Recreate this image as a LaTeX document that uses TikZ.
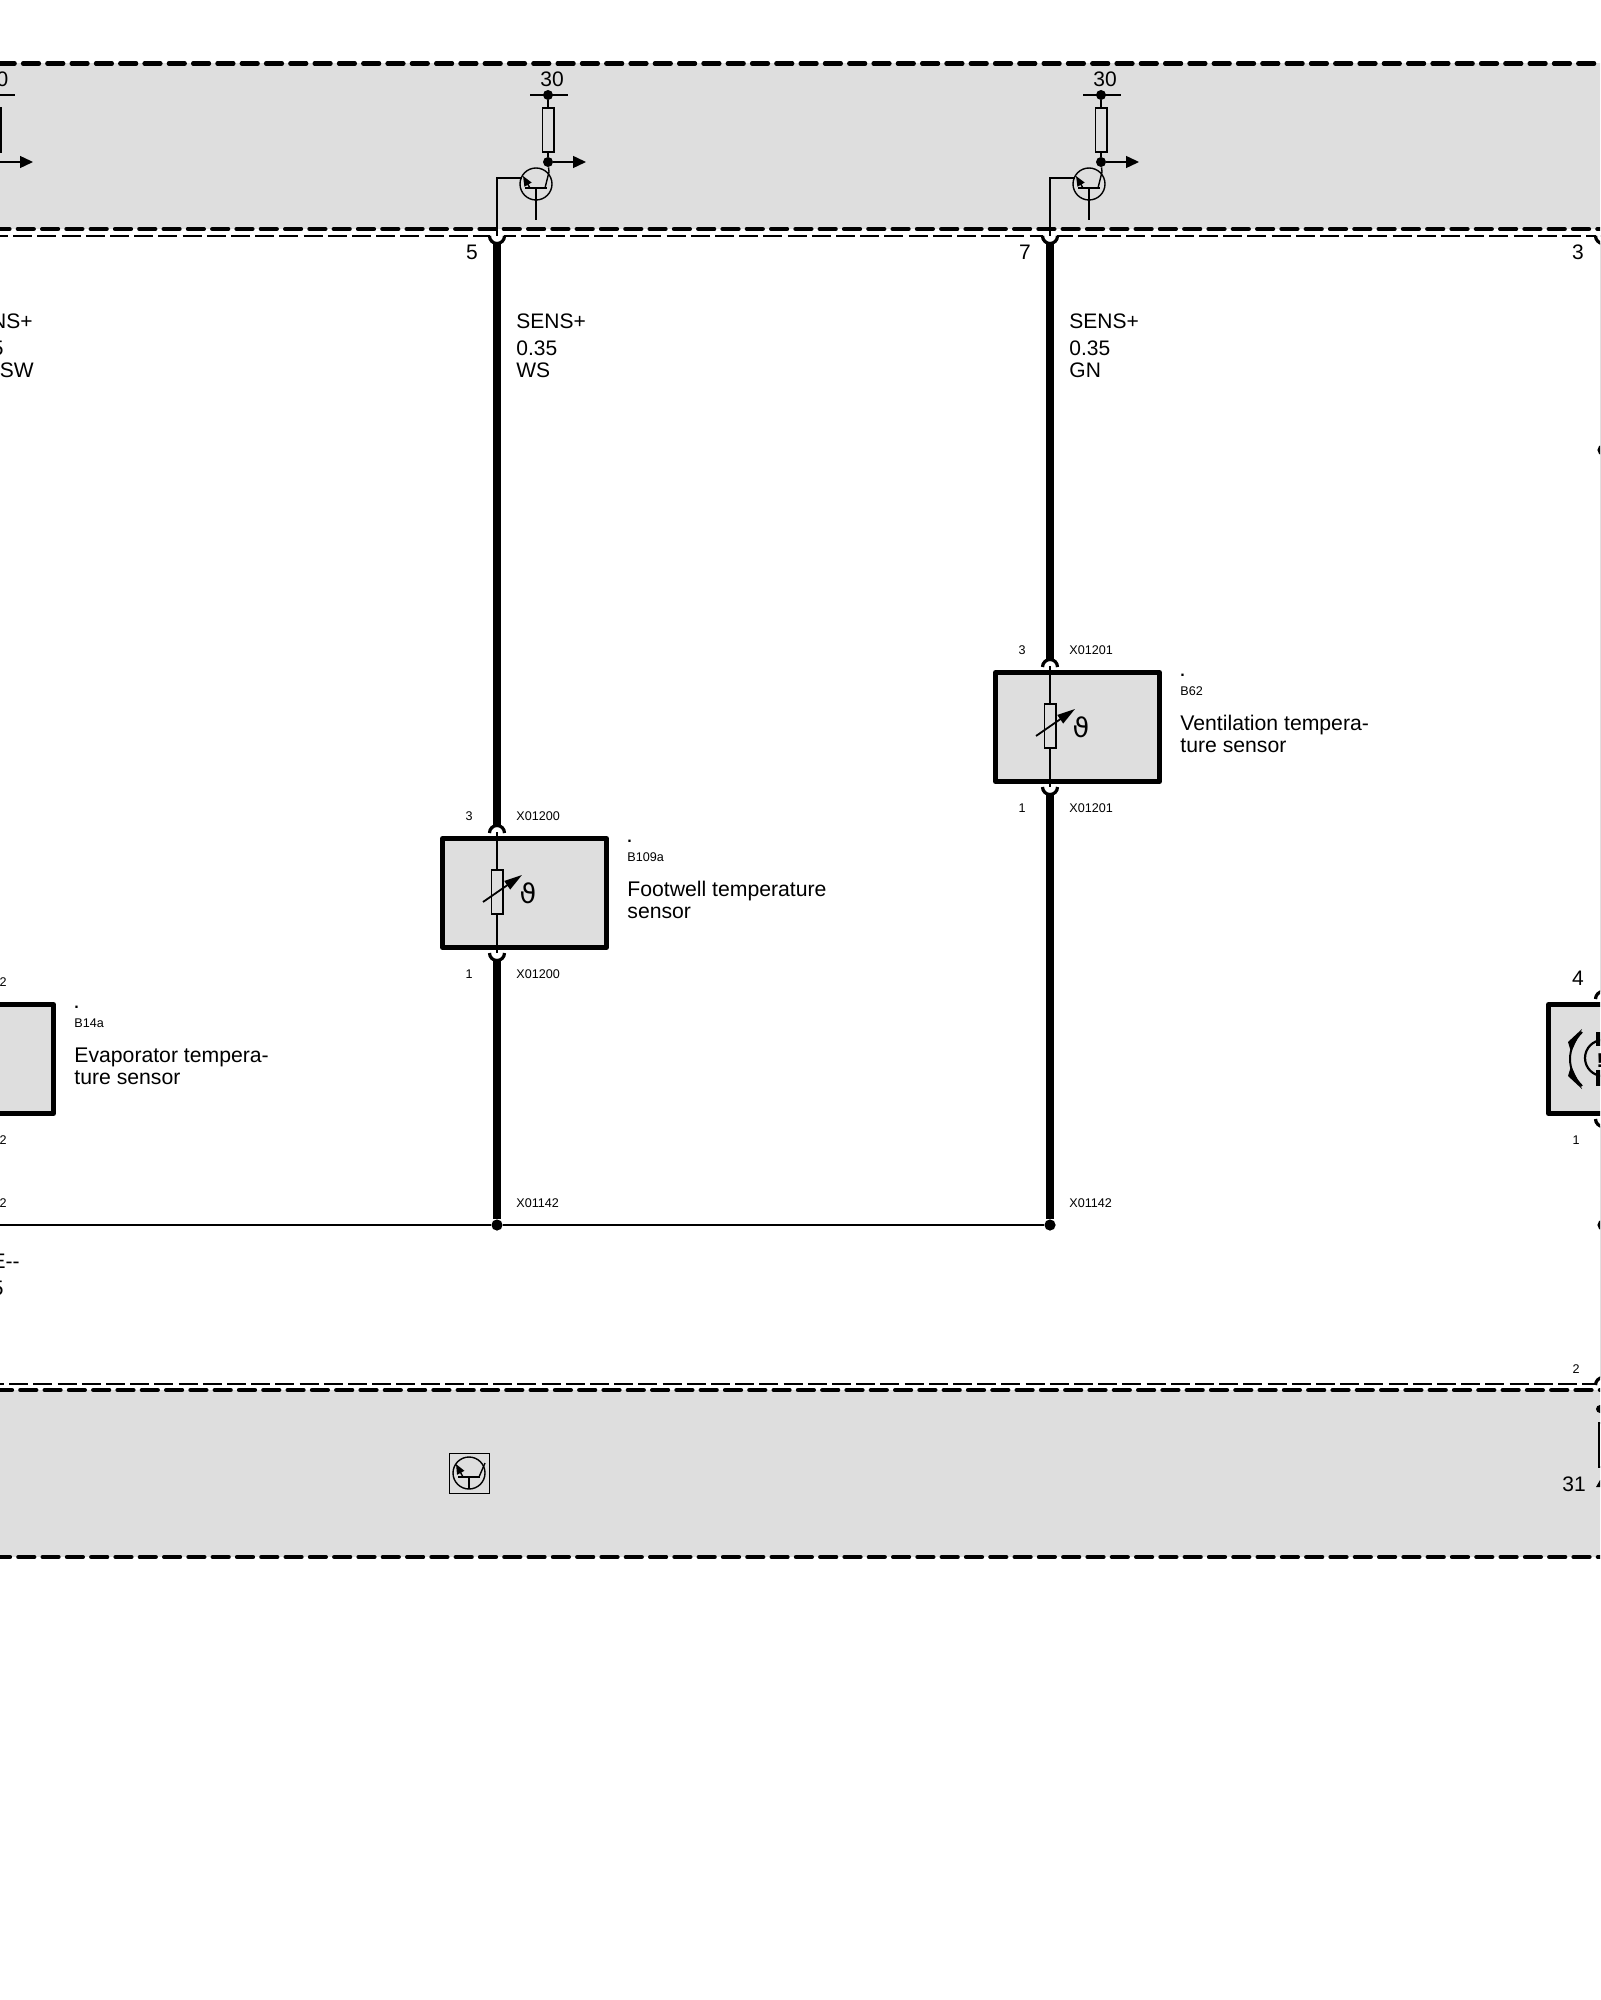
\documentclass[tikz,border=0pt]{standalone}
\usepackage{fontspec}
\setmainfont{Liberation Sans}
\newfontfamily\symfont{DejaVu Sans}
\usetikzlibrary{arrows.meta}
\definecolor{bandgrey}{RGB}{222,222,222}
\tikzset{
  band/.style={fill=bandgrey,draw=none},
  thickdash/.style={line width=2.1pt,line cap=round,dash pattern=on 8pt off 4.15pt},
  thindash/.style={line width=.75pt,dash pattern=on 9.5pt off 2.6pt},
  wirethick/.style={line width=3.8pt},
  wirethin/.style={line width=.75pt},
  hook/.style={line width=1.6pt},
  sym/.style={line width=.7pt},
  bigtxt/.style={font=\fontsize{10.5}{12}\selectfont,inner sep=0pt,anchor=base west},
  bigmid/.style={font=\fontsize{10.5}{12}\selectfont,inner sep=0pt,anchor=base},
  bigend/.style={font=\fontsize{10.5}{12}\selectfont,inner sep=0pt,anchor=base east},
  smalltxt/.style={font=\fontsize{6.3}{7}\selectfont,inner sep=0pt,anchor=base west},
  smallmid/.style={font=\fontsize{6.3}{7}\selectfont,inner sep=0pt,anchor=base},
  smallend/.style={font=\fontsize{6.3}{7}\selectfont,inner sep=0pt,anchor=base east},
  dotmark/.style={font=\bfseries\fontsize{8}{8}\selectfont,inner sep=0pt,anchor=base west},
  sensorbox/.style={draw,fill=bandgrey,line width=2.5pt,line join=round,minimum width=82pt,minimum height=54.5pt,inner sep=0pt},
  junction/.style={circle,fill=black,inner sep=0pt,minimum size=5pt},
  bigjunction/.style={circle,fill=black,inner sep=0pt,minimum size=5.6pt},
  tip/.style={-{Triangle[length=6.5pt,width=6pt]}},
  smalltip/.style={-{Triangle[length=5pt,width=4pt]}},
}
% #1 = prefix, #2 = wire x
\newcommand{\driverstage}[2]{%
  \begin{scope}[xshift=#2*0.5pt]
    \node[junction] (#1sup) at (51,95) {};
    \draw[sym] (33,95) -- (71,95);
    \node[draw,sym,minimum width=5.8pt,minimum height=22pt,inner sep=0pt] (#1res) at (51,130) {};
    \node[junction] (#1out) at (51,162) {};
    \coordinate (#1arrow) at (89,162);
    \draw[sym] (#1sup) -- (#1res);
    \draw[sym] (#1res) -- (#1out);
    \draw[sym,tip] (#1out) -- (#1arrow);
    \node[draw,circle,sym,minimum size=16pt,inner sep=0pt] (#1tr) at (39,184) {};
    \draw[sym] (28,188) -- (50,188);
    \draw[sym] (39,188) -- (39,220);
    \draw[sym] (48,188) -- (52,172) -- (#1out);
    \draw[sym,smalltip] (33,188) -- (26,176);
    \draw[sym] (25,178) -- (0,178) -- (0,236);
  \end{scope}}
% #1 = name, #2 = wire x, #3 = vertical shift
\newcommand{\sensorunit}[3]{%
  \begin{scope}[xshift=#2*0.5pt,yshift=-#3*0.5pt]
    \node[sensorbox] (#1) at (27.5,893) {};
    \coordinate (#1wt) at (0,825);
    \coordinate (#1wb) at (0,960);
    \fill[white] (-7,826) rectangle (7,835);
    \fill[white] (-7,951) rectangle (7,960);
    \draw[hook] (-7.5,833) arc[start angle=180,end angle=360,radius=7.5];
    \draw[hook] (-7.5,953) arc[start angle=180,end angle=0,radius=7.5];
    \node[draw,fill=bandgrey,sym,minimum width=5.8pt,minimum height=22pt,inner sep=0pt] (#1r) at (0,892) {};
    \draw[wirethin] (0,832) -- (#1r);
    \draw[wirethin] (#1r) -- (0,953);
    \draw[sym,line width=.9pt,-{Triangle[length=9pt,width=5pt]}] (-14,902) -- (25,875);
    \node[inner sep=0pt] (#1t) at (31,893) {\symfont\fontsize{13.5}{13.5}\selectfont ϑ};
  \end{scope}}
\begin{document}
\begin{tikzpicture}[x=0.5pt,y=-0.5pt]
\useasboundingbox (0,0) rectangle (1600,2000);
\clip (0,0) rectangle (1600,2000);
% bands
\fill[band] (-10,63.5) rectangle (1610,229);
\fill[band] (-10,1390) rectangle (1610,1557);
\draw[thickdash] (-25.6,63.5) -- (1620,63.5);
\draw[thickdash] (-6.5,229) -- (1620,229);
\draw[thindash] (-11,236) -- (1620,236);
\draw[thindash] (-15,1384) -- (1596,1384);
\draw[thickdash] (-4,1390) -- (1620,1390);
\draw[thickdash] (-6,1557) -- (1620,1557);
% driver stages
\driverstage{a}{-56}
\driverstage{b}{497}
\driverstage{c}{1050}
% connector hooks at the band
\foreach \x in {497,1050,1603}{
  \fill[white] ({\x-7},233.5) rectangle ({\x+7},243);
  \draw[hook] ({\x-7.5},236) arc[start angle=180,end angle=0,radius=7.5];
  \draw[wirethin] (\x,225) -- (\x,236);
}
% sensors
\sensorunit{ev}{-56}{166}
\sensorunit{fw}{497}{0}
\sensorunit{vt}{1050}{-166}
% right-hand unit
\node[sensorbox] (rb) at (1630.5,1059) {};
\draw[hook] (1595.5,999) arc[start angle=180,end angle=360,radius=7.5];
\draw[hook] (1595.5,1119) arc[start angle=180,end angle=0,radius=7.5];
\draw[hook] (1595.5,1385) arc[start angle=180,end angle=360,radius=7.5];
\draw[line width=1pt] (1582,1032) .. controls (1566,1048) and (1566,1070) .. (1582,1086);
\fill (1582,1029) -- (1571,1052) -- (1568,1042) -- cycle;
\fill (1582,1089) -- (1571,1066) -- (1568,1076) -- cycle;
\draw[line width=1.1pt] (1603,1058) circle[radius=18];
\fill (1596,1032) rectangle (1610,1046);
\fill (1596,1070) rectangle (1610,1086);
\node[inner sep=0pt,anchor=base,font=\bfseries\fontsize{10}{10}\selectfont] (rbx) at (1600,1067) {!};
% wires and junctions
\coordinate (wstart) at (-10,1225);
\coordinate (fwtop) at (497,243);
\coordinate (vttop) at (1050,243);
\coordinate (rtop) at (1603.4,243);
\coordinate (rt1) at (1603.4,992);
\coordinate (rt2) at (1603.4,1126);
\coordinate (rt3) at (1603.4,1378);
\node[bigjunction] (j0) at (497,1225) {};
\node[bigjunction] (j1) at (1050,1225) {};
\node[bigjunction] (j2) at (1603,1225) {};
\node[bigjunction] (j3) at (1603,450) {};
\node[junction,minimum size=4pt] (j4) at (1600,1409) {};
\fill (1596,1487) -- (1600,1480) -- (1600,1487) -- cycle;
\draw[wirethin] (wstart) -- (j0);
\draw[wirethin] (j0) -- (j1);
\draw[wirethick] (fwtop) -- (fwwt);
\draw[wirethick] (fwwb) -- (j0);
\draw[wirethick] (vttop) -- (vtwt);
\draw[wirethick] (vtwb) -- (j1);
\draw[wirethick] (rtop) -- (rt1);
\draw[wirethick] (rt2) -- (rt3);
% bottom band symbols
\node[draw,line width=.8pt,minimum size=20pt,inner sep=0pt] (trbox) at (469.5,1473.5) {};
\node[draw,circle,sym,minimum size=16pt,inner sep=0pt] (trc) at (469,1473) {};
\draw[sym] (458,1477) -- (480,1477);
\draw[sym] (469,1477) -- (469,1489);
\draw[sym] (479,1477) -- (485,1463);
\draw[sym,smalltip] (463,1477) -- (456,1464);
\node[draw,line width=.8pt,minimum width=40pt,minimum height=22pt,inner sep=0pt] (rbox) at (1639,1445) {};
% texts
\node[bigend] (t0) at (8.7,87) {0};
\node[bigmid] (t30a) at (552,87) {30};
\node[bigmid] (t30b) at (1105,87) {30};
\node[bigmid] (p5) at (472,260) {5};
\node[bigmid] (p7) at (1025,260) {7};
\node[bigmid] (p3) at (1578,260) {3};
\node[bigend] (l1) at (33,329) {NS+};
\node[bigend] (l2) at (4,356) {5};
\node[bigend] (l3) at (34,378) {SW};
\node[bigtxt] (l4) at (516,329) {SENS+};
\node[bigtxt] (l5) at (516,356) {0.35};
\node[bigtxt] (l6) at (516,378) {WS};
\node[bigtxt] (l7) at (1069,329) {SENS+};
\node[bigtxt] (l8) at (1069,356) {0.35};
\node[bigtxt] (l9) at (1069,378) {GN};
\node[bigend] (l10) at (20,1268) {E-{}-};
\node[bigend] (l11) at (4,1295) {5};
\node[bigmid] (p4) at (1578,985) {4};
\node[bigmid] (p31) at (1574,1491) {31};
% small pin labels
\node[smallend] (s1) at (7,986) {2};
\node[smallend] (s2) at (7,1144) {2};
\node[smallend] (s3) at (7,1207) {2};
\node[smallmid] (s4) at (469,820) {3};
\node[smalltxt] (s5) at (516,820) {X01200};
\node[smallmid] (s6) at (469,978) {1};
\node[smalltxt] (s7) at (516,978) {X01200};
\node[smallmid] (s8) at (1022,654) {3};
\node[smalltxt] (s9) at (1069,654) {X01201};
\node[smallmid] (s10) at (1022,812) {1};
\node[smalltxt] (s11) at (1069,812) {X01201};
\node[smalltxt] (s12) at (516,1207) {X01142};
\node[smalltxt] (s13) at (1069,1207) {X01142};
\node[smallmid] (s14) at (1576,1144) {1};
\node[smallmid] (s15) at (1576,1373) {2};
% component labels
\foreach \nm/\x/\y/\code/\la/\lb in {e/74/166/B14a/Evaporator tempera-/ture sensor,f/627/0/B109a/Footwell temperature/sensor,v/1180/-166/B62/Ventilation tempera-/ture sensor}{
  \node[dotmark] (\nm dot) at (\x,842+\y) {.};
  \node[smalltxt] (\nm code) at (\x,861+\y) {\code};
  \node[bigtxt,font=\fontsize{10.6}{12}\selectfont] (\nm la) at (\x,896+\y) {\la};
  \node[bigtxt,font=\fontsize{10.6}{12}\selectfont] (\nm lb) at (\x,918+\y) {\lb};
}
\end{tikzpicture}
\end{document}
